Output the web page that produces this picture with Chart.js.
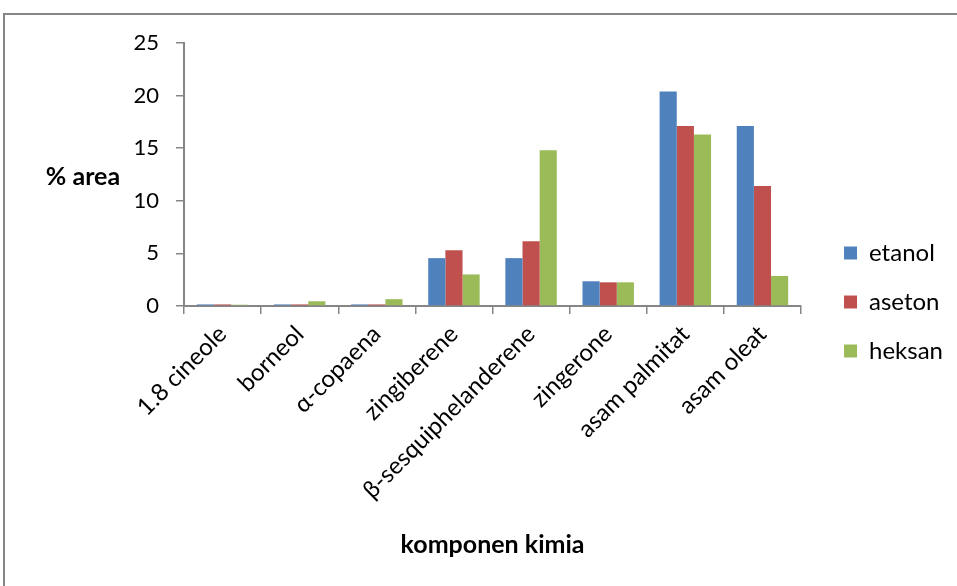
<!DOCTYPE html>
<html>
<head>
<meta charset="utf-8">
<script src="https://cdn.jsdelivr.net/npm/chart.js@4"></script>
<style>
  html, body { margin: 0; padding: 0; background: #ffffff; }
  #wrap { width: 957px; height: 586px; position: relative; }
</style>
</head>
<body>
<div id="wrap"><canvas id="chart" width="957" height="586"></canvas></div>
<script>
// Senyawa kimia (kategori sumbu X)
const categories = [
  '1.8 cineole', 'borneol', '\u03b1-copaena', 'zingiberene',
  '\u03b2-sesquiphelanderene', 'zingerone', 'asam palmitat', 'asam oleat'
];

// % area tiap pelarut
const etanol = [0.15, 0.15, 0.15, 4.55, 4.55, 2.35, 20.4, 17.1];
const aseton = [0.15, 0.15, 0.15, 5.3, 6.15, 2.25, 17.1, 11.4];
const heksan = [0.12, 0.45, 0.65, 3.0, 14.8, 2.25, 16.3, 2.85];

const seriesNames = ['etanol', 'aseton', 'heksan'];
const yTicks = [0, 5, 10, 15, 20, 25];

const FONT = 'Lato, "Liberation Sans", sans-serif';
const AXIS_GRAY = '#868686';

// Bingkai grafik
const framePlugin = {
  id: 'frame',
  beforeDraw(chart) {
    const ctx = chart.ctx;
    ctx.save();
    ctx.strokeStyle = AXIS_GRAY;
    ctx.lineWidth = 2;
    ctx.beginPath();
    ctx.moveTo(4, chart.height + 5);
    ctx.lineTo(4, 14);
    ctx.lineTo(chart.width + 5, 14);
    ctx.stroke();
    ctx.restore();
  }
};

// Judul sumbu Y ditulis mendatar di sebelah kiri angka
const yTitlePlugin = {
  id: 'yTitleFlat',
  afterDraw(chart) {
    const area = chart.chartArea;
    const ctx = chart.ctx;
    ctx.save();
    ctx.font = 'bold 25px ' + FONT;
    ctx.fillStyle = '#000';
    ctx.textAlign = 'center';
    ctx.textBaseline = 'middle';
    ctx.fillText('% area', 83, (area.top + area.bottom) / 2 + 2);
    ctx.restore();
  }
};

const colors = ['#4F81BD', '#C0504D', '#9BBB59'];
const values = [etanol, aseton, heksan];

new Chart(document.getElementById('chart'), {
  type: 'bar',
  data: {
    labels: categories,
    datasets: seriesNames.map((name, i) => ({
      label: name,
      data: values[i],
      backgroundColor: colors[i],
      borderWidth: 0,
      categoryPercentage: 0.667,
      barPercentage: 1.0
    }))
  },
  options: {
    responsive: false,
    animation: false,
    layout: { padding: { left: 0, top: 43, right: 4, bottom: 25 } },
    plugins: {
      tooltip: { enabled: false },
      title: { display: false },
      legend: {
        position: 'right',
        align: 'center',
        labels: {
          font: { family: FONT, size: 24 },
          color: '#000',
          boxWidth: 13,
          boxHeight: 13,
          padding: 25
        }
      }
    },
    scales: {
      x: {
        grid: {
          offset: true,
          drawOnChartArea: false,
          drawTicks: true,
          tickLength: 8,
          color: AXIS_GRAY,
          lineWidth: 1.5
        },
        border: { color: AXIS_GRAY, width: 2 },
        ticks: {
          font: { family: FONT, size: 24 },
          color: '#000',
          maxRotation: 45,
          minRotation: 45,
          autoSkip: false,
          padding: 6
        },
        title: {
          display: true,
          text: 'komponen kimia',
          font: { family: FONT, size: 25, weight: 'bold' },
          color: '#000',
          padding: { top: 4, bottom: 1 }
        },
        afterFit(scale) { scale.height = 255; }
      },
      y: {
        min: 0,
        max: 25,
        afterBuildTicks(scale) { scale.ticks = yTicks.map(v => ({ value: v })); },
        grid: {
          drawOnChartArea: false,
          drawTicks: true,
          tickLength: 8,
          color: AXIS_GRAY,
          lineWidth: 1.5
        },
        border: { color: AXIS_GRAY, width: 2 },
        ticks: {
          font: { family: FONT, size: 22 },
          color: '#000',
          padding: 17
        },
        afterFit(scale) { scale.width = 184; }
      },
      gap: {
        type: 'linear',
        position: 'right',
        axis: 'y',
        display: true,
        grid: { display: false },
        border: { display: false },
        ticks: { display: false },
        afterFit(scale) { scale.width = 18; }
      }
    }
  },
  plugins: [framePlugin, yTitlePlugin]
});
</script>
</body>
</html>
